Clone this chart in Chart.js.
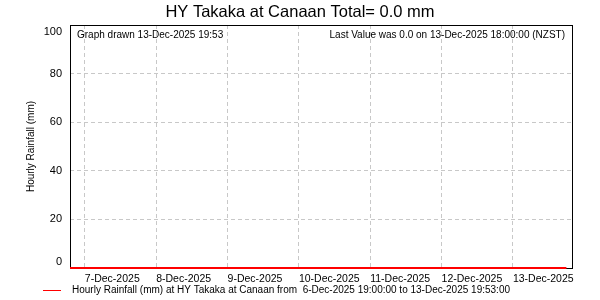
<!DOCTYPE html>
<html>
<head>
<meta charset="utf-8">
<script src="https://cdn.jsdelivr.net/npm/chart.js@4.4.1/dist/chart.umd.min.js"></script>
<style>
    html, body { margin: 0; padding: 0; background: #fff; }
    #wrap { width: 600px; height: 300px; }
</style>
</head>
<body>
<div id="wrap"><canvas id="rainChart" width="600" height="300"></canvas></div>
<script>
// hours counted from 6-Dec-2025 00:00
const axisStart = 19;            // 6-Dec-2025 19:00
const axisEnd = 187 + 53 / 60;   // 13-Dec-2025 19:53
const dayTickHours = [24, 48, 72, 96, 120, 144, 168];
const dayLabels = ['7-Dec-2025', '8-Dec-2025', '9-Dec-2025', '10-Dec-2025', '11-Dec-2025', '12-Dec-2025', '13-Dec-2025'];
const yTickValues = [0, 20, 40, 60, 80, 100];

// hourly rainfall, first and last reading (all 0.0 mm)
const rainHours = [19, 186];
const rainValues = [0.0, 0.0];

const FONT = 'Liberation Sans, Arial, sans-serif';

const points = rainHours.map((h, i) => ({ x: h, y: rainValues[i] }));

// frame, clamped y labels, inner notes and legend
const decorPlugin = {
    id: 'decor',
    beforeDatasetsDraw(chart) {
        const { ctx, chartArea: a } = chart;
        ctx.save();
        ctx.strokeStyle = '#000';
        ctx.lineWidth = 1;
        ctx.strokeRect(Math.round(a.left) + 0.5, Math.round(a.top) + 0.5,
            Math.round(a.right - a.left), Math.round(a.bottom - a.top));
        ctx.restore();
    },
    afterDraw(chart) {
        const { ctx, chartArea: a } = chart;
        const yScale = chart.scales.y;
        ctx.save();
        ctx.fillStyle = '#000';
        ctx.textBaseline = 'middle';

        // y tick labels, kept inside the frame
        ctx.font = '11px ' + FONT;
        ctx.textAlign = 'right';
        yTickValues.forEach(v => {
            let y = yScale.getPixelForValue(v);
            y = Math.min(Math.max(y, a.top + 7), a.bottom - 6);
            ctx.fillText(String(v), a.left - 8, y);
        });

        // notes inside the plot
        ctx.font = '10px ' + FONT;
        ctx.textAlign = 'left';
        ctx.fillText('Graph drawn 13-Dec-2025 19:53', a.left + 7, a.top + 10);
        ctx.textAlign = 'right';
        ctx.fillText('Last Value was 0.0 on 13-Dec-2025 18:00:00 (NZST)', a.right - 7, a.top + 10);

        // legend
        ctx.strokeStyle = '#ff0000';
        ctx.lineWidth = 1;
        ctx.beginPath();
        ctx.moveTo(43, 290.5);
        ctx.lineTo(61, 290.5);
        ctx.stroke();
        ctx.textAlign = 'left';
        ctx.fillText('Hourly Rainfall (mm) at HY Takaka at Canaan from  6-Dec-2025 19:00:00 to 13-Dec-2025 19:53:00', 72, 290);
        ctx.restore();
    }
};

const ctx = document.getElementById('rainChart').getContext('2d');
new Chart(ctx, {
    type: 'line',
    data: {
        datasets: [{
            label: 'Hourly Rainfall (mm)',
            data: points,
            borderColor: '#ff0000',
            borderWidth: 2,
            pointRadius: 0,
            fill: false,
            tension: 0,
            clip: false
        }]
    },
    options: {
        responsive: false,
        animation: false,
        layout: { padding: 0 },
        plugins: {
            legend: { display: false },
            tooltip: { enabled: false },
            title: {
                display: true,
                text: 'HY Takaka at Canaan Total= 0.0 mm',
                color: '#000',
                font: { family: FONT, size: 16.5, weight: 'normal' },
                padding: { top: 3, bottom: 2.2 }
            }
        },
        scales: {
            x: {
                type: 'linear',
                min: axisStart,
                max: axisEnd,
                afterBuildTicks: scale => {
                    scale.ticks = dayTickHours.map(v => ({ value: v }));
                },
                afterFit: scale => { scale.height = 32; },
                ticks: {
                    autoSkip: false,
                    maxRotation: 0,
                    align: 'start',
                    padding: 5,
                    color: '#000',
                    font: { family: FONT, size: 10.5 },
                    callback: (v, i) => dayLabels[i]
                },
                grid: { color: '#c8c8c8', drawTicks: false },
                border: { display: false, dash: [4, 3] }
            },
            y: {
                min: 0,
                max: 100,
                ticks: { stepSize: 20, display: false },
                afterFit: scale => { scale.width = 70; },
                title: {
                    display: true,
                    text: 'Hourly Rainfall (mm)',
                    color: '#000',
                    font: { family: FONT, size: 10 },
                    padding: { top: 25, bottom: 0 }
                },
                grid: { color: '#c8c8c8', drawTicks: false },
                border: { display: false, dash: [4, 3] }
            },
            // empty right margin
            yRight: {
                position: 'right',
                display: true,
                ticks: { display: false },
                grid: { display: false },
                border: { display: false },
                afterFit: scale => { scale.width = 28; }
            }
        }
    },
    plugins: [decorPlugin]
});
</script>
</body>
</html>
